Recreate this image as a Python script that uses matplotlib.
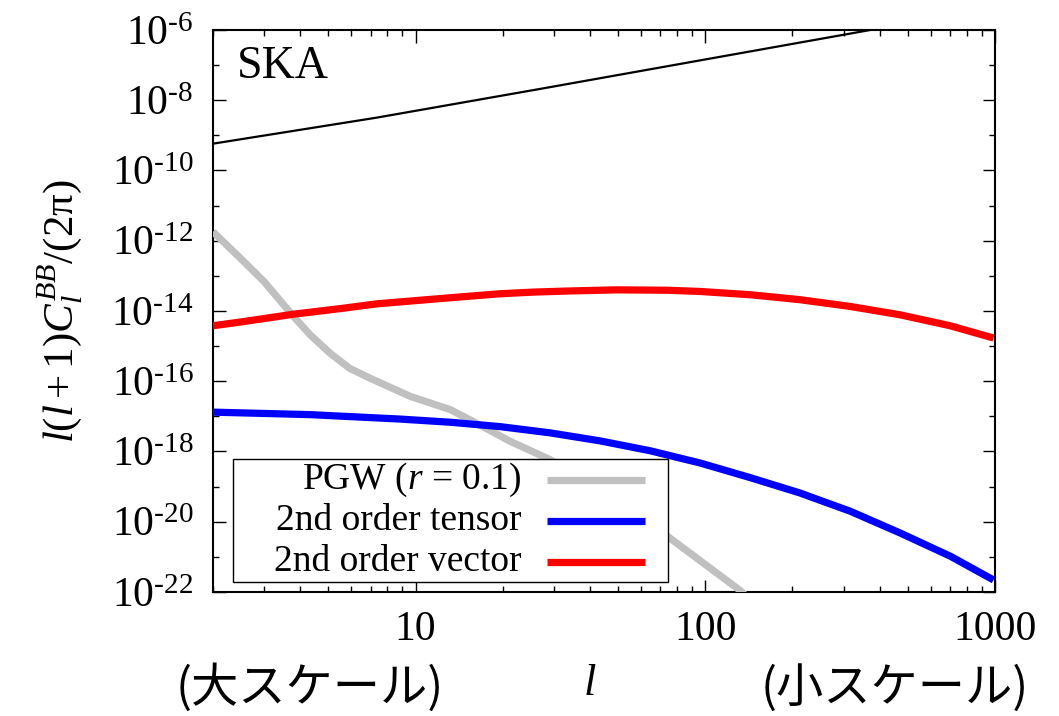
import numpy as np
import matplotlib.pyplot as plt
from matplotlib.lines import Line2D
from matplotlib.patches import Rectangle
from matplotlib.ticker import FixedLocator, FuncFormatter, LogLocator, NullFormatter

plt.rcParams['font.family'] = ['Liberation Serif', 'DejaVu Serif']
plt.rcParams['mathtext.fontset'] = 'custom'
plt.rcParams['mathtext.rm'] = 'Liberation Serif'
plt.rcParams['mathtext.it'] = 'Liberation Serif:italic'
plt.rcParams['mathtext.bf'] = 'Liberation Serif:bold'

# B-mode spectra l(l+1)C_l^BB/(2pi)
l_pgw = [2, 2.55, 3.0, 3.8, 4.33, 5.07, 5.94, 7.0, 9.6, 13.2, 17.1, 21.2,
         29.1, 73.6, 132, 140]
cl_pgw = [1.8e-12, 2.6e-13, 6.9e-14, 6.9e-15, 2.1e-15, 6.3e-16, 2.3e-16,
          1.2e-16, 3.7e-17, 1.55e-17, 5.1e-18, 1.95e-18, 5.9e-19, 4.0e-21,
          1.1e-22, 7e-23]

l_tensor = [2, 4.33, 8.8, 13.2, 19.6, 29.1, 43.4, 64.5, 96, 143, 212, 316,
            470, 700, 988]
cl_tensor = [1.32e-17, 1.12e-17, 8.4e-18, 6.8e-18, 5.1e-18, 3.4e-18, 2.0e-18,
             1.05e-18, 4.7e-19, 1.8e-19, 6.6e-20, 2.0e-20, 4.8e-21, 1.05e-21,
             2.2e-22]

l_vector = [2, 2.55, 3.79, 5.64, 7.35, 12.5, 19.6, 25.5, 33.3, 49.4, 73.6,
            96, 143, 212, 316, 470, 700, 988]
cl_vector = [3.8e-15, 5.0e-15, 8.1e-15, 1.2e-14, 1.6e-14, 2.3e-14, 3.1e-14,
             3.45e-14, 3.7e-14, 4.0e-14, 3.9e-14, 3.6e-14, 2.9e-14, 2.1e-14,
             1.35e-14, 7.8e-15, 3.8e-15, 1.7e-15]

l_noise = [2, 7.35, 26.9, 100, 371]
cl_noise = [5.8e-10, 3.2e-9, 2.1e-8, 1.45e-7, 1.0e-6]

series = [
    ("PGW ($r$ = 0.1)", l_pgw, cl_pgw, "#c0c0c0"),
    ("2nd order tensor", l_tensor, cl_tensor, "#0000ff"),
    ("2nd order vector", l_vector, cl_vector, "#ff0000"),
]

fig = plt.figure(figsize=(10.59, 7.16), dpi=100)
ax = fig.add_axes([0.2011, 0.1732, 0.7385, 0.7849])

ax.plot(l_noise, cl_noise, color="black", lw=1.6, zorder=2)
for label, lx, cy, col in series:
    ax.plot(lx, cy, color=col, lw=5.2, solid_capstyle="butt",
            solid_joinstyle="round", zorder=3)

ax.set_xscale("log")
ax.set_yscale("log")
ax.set_xlim(2, 1000)
ax.set_ylim(1e-22, 1e-6)

ax.xaxis.set_major_locator(FixedLocator([10, 100, 1000]))
ax.xaxis.set_minor_locator(LogLocator(base=10, subs=np.arange(2, 10)))
ax.xaxis.set_minor_formatter(NullFormatter())
ax.xaxis.set_major_formatter(FuncFormatter(lambda v, p: "%d" % v))

ax.yaxis.set_major_locator(FixedLocator([10.0 ** e for e in range(-22, -5, 2)]))
ax.yaxis.set_minor_locator(FixedLocator([10.0 ** e for e in range(-21, -6, 2)]))
ax.yaxis.set_minor_formatter(NullFormatter())
ax.yaxis.set_major_formatter(
    FuncFormatter(lambda v, p: r"10$^{\text{%d}}$" % round(np.log10(v))))

ax.tick_params(which="both", direction="in", top=True, right=True,
               labelsize=30, width=1.0)
ax.tick_params(which="major", length=9)
ax.tick_params(which="minor", length=4.5)
ax.tick_params(axis="x", pad=13)
ax.tick_params(axis="y", pad=14)
for sp in ax.spines.values():
    sp.set_linewidth(1.5)

ax.set_ylabel(r"$l(l+1)C_l^{BB}/(2\mathrm{\pi})$", fontsize=31)
ax.yaxis.set_label_coords(-0.163, 0.5)
ax.set_xlabel(r"$l$", fontsize=32)
ax.xaxis.set_label_coords(0.482, -0.128)

ax.text(0.031, 0.934, "SKA", transform=ax.transAxes, fontsize=33,
        ha="left", va="center")

# key box in the lower left, text right-aligned before the line sample
ax.add_patch(Rectangle((0.0256, 0.0178), 0.5562, 0.2189, transform=ax.transAxes,
                       facecolor="white", edgecolor="black", lw=1.0, zorder=5))
rows_y = [0.1993, 0.1263, 0.0534]
for (label, lx, cy, col), ry in zip(series, rows_y):
    ax.text(0.395, ry, label, transform=ax.transAxes, fontsize=27,
            ha="right", va="center", zorder=6)
    ax.add_line(Line2D([0.427, 0.5524], [ry, ry], transform=ax.transAxes,
                       color=col, lw=5.2, solid_capstyle="butt", zorder=6))

jp = ["Noto Sans CJK JP", "DejaVu Sans"]
fig.text(0.2927, 0.038, "(大スケール)", family=jp, fontsize=34,
         ha="center", va="center")
fig.text(0.845, 0.038, "(小スケール)", family=jp, fontsize=34,
         ha="center", va="center")

fig.savefig("out.png", dpi=100)
